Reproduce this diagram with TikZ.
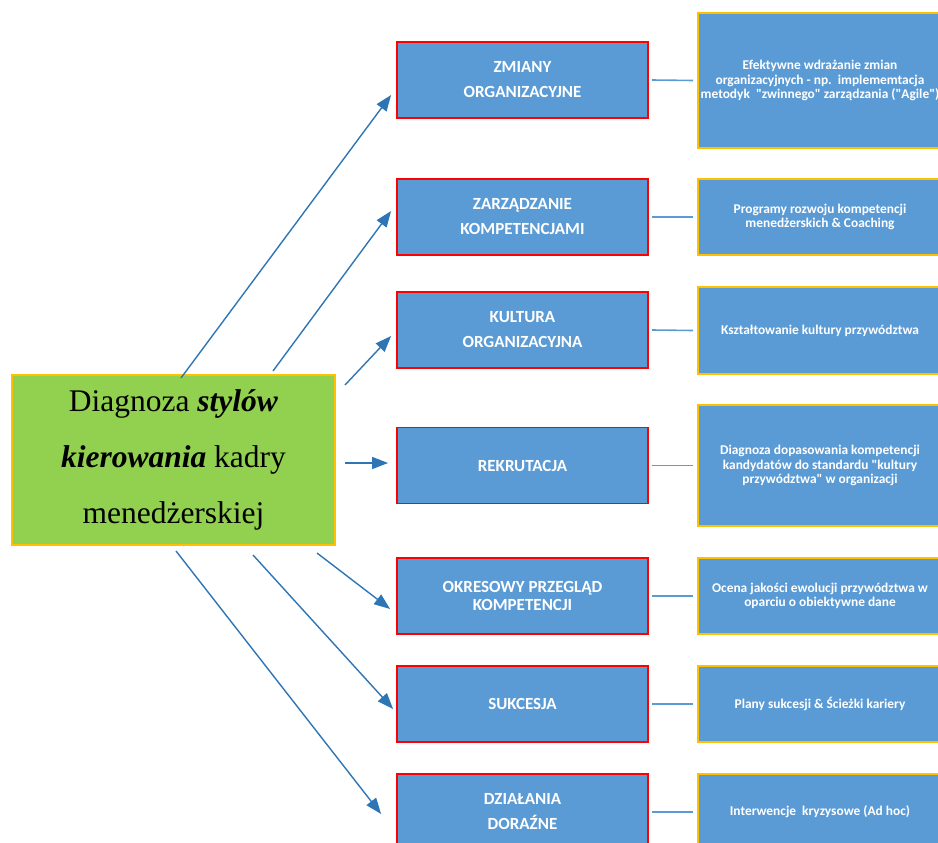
\documentclass[tikz,border=0pt]{standalone}
\usepackage{fontspec}
\setmainfont{Liberation Serif}
\newfontfamily\calib{Carlito}
\usetikzlibrary{arrows.meta}
\definecolor{boxblue}{HTML}{5B9BD5}
\definecolor{redline}{HTML}{FF0000}
\definecolor{goldline}{HTML}{FFC000}
\definecolor{greenfill}{HTML}{92D050}
\definecolor{arrowblue}{HTML}{2E75B6}
\tikzset{
  midbox/.style={draw=redline, line width=1.8pt, fill=boxblue, minimum width=251pt, minimum height=76pt,
    inner sep=0pt, text=white, align=center, font=\calib\bfseries\fontsize{17}{25}\selectfont},
  rightbox/.style={draw=goldline, line width=1.8pt, fill=boxblue, minimum width=244pt,
    inner sep=0pt, text=white, align=center, font=\calib\bfseries\fontsize{13.4}{14.5}\selectfont},
  mainbox/.style={draw=goldline, line width=1.2pt, fill=greenfill, minimum width=323pt, minimum height=170pt,
    inner sep=0pt, align=center, font=\fontsize{31.5}{56}\selectfont},
  arr/.style={draw=arrowblue, line width=1.4pt, -{Triangle[length=16pt,width=12pt]}},
  link/.style={draw=boxblue, line width=1.6pt},
}
\begin{document}
\begin{tikzpicture}[x=1pt,y=-1pt]
\useasboundingbox (0,0) rectangle (938,843);
\clip (0,0) rectangle (938,843);
% main box
\node[mainbox] (main) at (173.5,460) {Diagnoza \textbf{\textit{stylów}}\\\textbf{\textit{kierowania}} kadry\\menedżerskiej};
% middle boxes
\node[midbox] (m1) at (522.5,80) {ZMIANY\\ORGANIZACYJNE};
\node[midbox] (m2) at (522.5,217) {ZARZĄDZANIE\\KOMPETENCJAMI};
\node[midbox] (m3) at (522.5,330) {KULTURA\\ORGANIZACYJNA};
\node[midbox] (m4) at (522.5,465.5) {REKRUTACJA};
\node[midbox, font=\calib\bfseries\fontsize{17}{18.5}\selectfont] (m5) at (522.5,596) {OKRESOWY PRZEGLĄD\\KOMPETENCJI};
\node[midbox] (m6) at (522.5,704) {SUKCESJA};
\node[midbox] (m7) at (522.5,812) {DZIAŁANIA\\DORAŹNE};
% right boxes
\node[rightbox, minimum height=135pt] (r1) at (820,80.5) {Efektywne wdrażanie zmian\\organizacyjnych - np.\ \ implememtacja\\metodyk \ "zwinnego" zarządzania ("Agile")};
\node[rightbox, minimum height=76pt] (r2) at (820,217) {Programy rozwoju kompetencji\\menedżerskich \& Coaching};
\node[rightbox, minimum height=87pt] (r3) at (820,330.5) {Kształtowanie kultury przywództwa};
\node[rightbox, minimum height=121pt] (r4) at (820,465.5) {Diagnoza dopasowania kompetencji\\kandydatów do standardu "kultury\\przywództwa" w organizacji};
\node[rightbox, minimum height=76pt] (r5) at (820,596) {Ocena jakości ewolucji przywództwa w\\oparciu o obiektywne dane};
\node[rightbox, minimum height=76pt] (r6) at (820,704) {Plany sukcesji \& Ścieżki kariery};
\node[rightbox, minimum height=76pt] (r7) at (820,812) {Interwencje \ kryzysowe (Ad hoc)};
% links
\foreach \i in {1,...,7}{
  \draw[link] ([xshift=3pt]m\i.east) -- ([xshift=-4pt]r\i.west);
}
% arrows from main box
\coordinate (s1) at (181,378);
\coordinate (s2) at (273,371);
\coordinate (s3) at (345,385);
\coordinate (s4) at (345,463);
\coordinate (s5) at (317,553);
\coordinate (s6) at (253,555);
\coordinate (s7) at (176,551);
\draw[arr] (s1) -- ([xshift=-5pt,yshift=-15pt]m1.west);
\draw[arr] (s2) -- ([xshift=-5pt,yshift=6pt]m2.west);
\draw[arr] (s3) -- ([xshift=-5pt,yshift=-6pt]m3.west);
\draw[arr] (s4) -- ([xshift=-8pt,yshift=2.5pt]m4.west);
\draw[arr] (s5) -- ([xshift=-6pt,yshift=-13pt]m5.west);
\draw[arr] (s6) -- ([xshift=-3pt,yshift=-5pt]m6.west);
\draw[arr] (s7) -- ([xshift=-15pt,yshift=-2pt]m7.west);
\end{tikzpicture}
\end{document}
